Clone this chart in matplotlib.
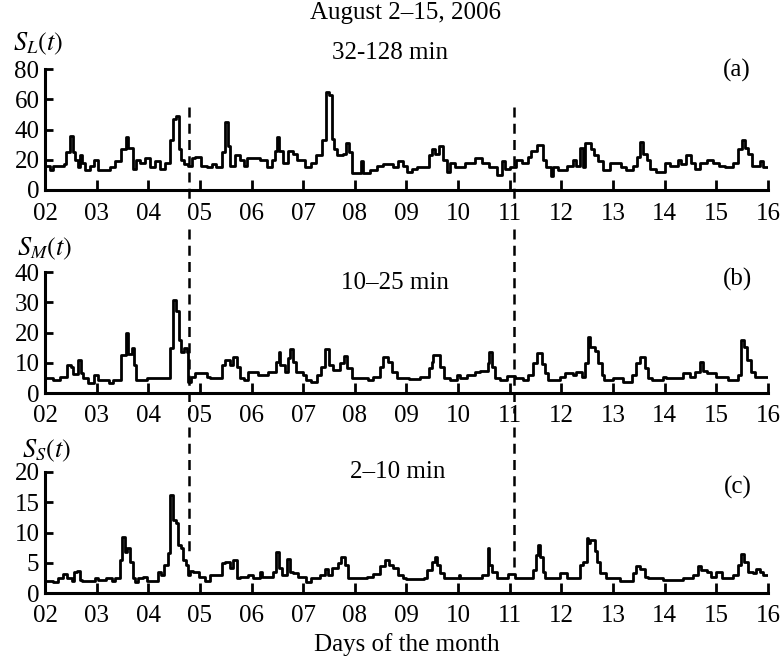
import numpy as np
import matplotlib.pyplot as plt

plt.rcParams['font.family'] = 'Liberation Serif'
plt.rcParams['mathtext.fontset'] = 'stix'

# step data: start time of each step (day of month) and value
t_L = [2.00, 2.10, 2.15, 2.36, 2.41, 2.48, 2.55, 2.58, 2.63, 2.67, 2.71, 2.77, 2.87, 2.94,
       3.03, 3.26, 3.36, 3.48, 3.57, 3.61, 3.71, 3.77, 3.84, 3.94, 4.03, 4.13, 4.23, 4.32,
       4.42, 4.47, 4.54, 4.60, 4.64, 4.69, 4.77, 4.84, 4.90, 5.03, 5.13, 5.23, 5.32, 5.42,
       5.48, 5.55, 5.59, 5.68, 5.77, 5.85, 5.92, 6.16, 6.29, 6.39, 6.45, 6.50, 6.54, 6.60,
       6.71, 6.81, 6.87, 7.03, 7.16, 7.25, 7.36, 7.44, 7.50, 7.55, 7.59, 7.65, 7.77, 7.83,
       7.89, 7.94, 8.11, 8.15, 8.29, 8.42, 8.55, 8.74, 8.84, 8.94, 9.01, 9.10, 9.20, 9.43,
       9.49, 9.55, 9.62, 9.70, 9.78, 9.84, 9.94, 10.13, 10.33, 10.46, 10.59, 10.75, 10.84,
       10.91, 11.00, 11.13, 11.23, 11.36, 11.42, 11.53, 11.65, 11.71, 11.79, 11.84, 11.94,
       12.10, 12.23, 12.29, 12.36, 12.41, 12.45, 12.58, 12.63, 12.71, 12.81, 12.94, 13.16,
       13.26, 13.39, 13.47, 13.53, 13.58, 13.65, 13.72, 13.84, 14.00, 14.10, 14.26, 14.32,
       14.42, 14.50, 14.58, 14.68, 14.81, 14.93, 15.06, 15.16, 15.32, 15.42, 15.50, 15.55,
       15.61, 15.69, 15.84, 15.91]
s_L = [16, 13, 16, 17, 25, 36, 25, 20, 15, 23, 18, 13, 16, 20,
       13, 15, 19, 27, 35, 28, 14, 20, 18, 21, 15, 19, 14, 18,
       33, 47, 49, 27, 20, 17, 16, 21, 22, 16, 15, 17, 15, 25,
       45, 29, 16, 23, 20, 16, 21, 20, 15, 20, 26, 35, 26, 18,
       26, 24, 20, 15, 18, 23, 33, 65, 63, 34, 27, 23, 24, 31,
       25, 11, 19, 11, 13, 16, 17, 15, 19, 16, 12, 14, 15, 23,
       27, 24, 29, 20, 12, 18, 15, 18, 21, 18, 15, 10, 19,
       14, 15, 20, 18, 22, 26, 30, 20, 15, 9, 15, 13,
       16, 20, 16, 28, 15, 31, 27, 23, 19, 13, 18, 15,
       13, 16, 22, 32, 24, 20, 14, 12, 18, 16, 20, 17,
       23, 18, 14, 18, 20, 18, 16, 15, 18, 27, 33, 28,
       24, 16, 19, 15]

t_M = [2.00, 2.16, 2.29, 2.42, 2.50, 2.55, 2.63, 2.69, 2.74, 2.84, 2.94, 3.03, 3.23, 3.32,
       3.48, 3.57, 3.61, 3.68, 3.72, 3.76, 3.97, 4.42, 4.47, 4.54, 4.60, 4.64, 4.69, 4.74,
       4.77, 4.82, 4.90, 5.13, 5.19, 5.42, 5.48, 5.58, 5.65, 5.71, 5.77, 5.85, 5.94, 6.13,
       6.32, 6.48, 6.54, 6.56, 6.65, 6.71, 6.75, 6.81, 6.86, 7.00, 7.06, 7.16, 7.26, 7.35,
       7.42, 7.50, 7.58, 7.71, 7.79, 7.85, 7.94, 8.26, 8.35, 8.48, 8.55, 8.65, 8.71, 8.81,
       9.04, 9.26, 9.43, 9.49, 9.52, 9.65, 9.72, 9.84, 9.97, 10.04, 10.17, 10.33, 10.42,
       10.57, 10.60, 10.65, 10.71, 10.81, 10.94, 11.10, 11.26, 11.36, 11.45, 11.53, 11.62,
       11.68, 11.74, 11.97, 12.07, 12.23, 12.29, 12.39, 12.45, 12.52, 12.56, 12.65, 12.71,
       12.78, 12.82, 13.00, 13.19, 13.36, 13.45, 13.52, 13.61, 13.68, 13.76, 13.97, 14.03,
       14.35, 14.48, 14.58, 14.68, 14.74, 14.81, 15.00, 15.22, 15.42, 15.48, 15.53, 15.59,
       15.68, 15.74]
s_M = [4.9, 4.3, 5.4, 9.3, 8.7, 6.2, 11, 6.5, 4.9, 3.2, 6, 4.3, 3.2, 4.3,
       12.6, 19.7, 13, 15, 9.3, 4.3, 5, 15, 30.8, 27, 17.5, 13.7, 15, 13.5,
       3.7, 5.4, 6.5, 5.4, 4.9, 9.3, 10.9, 9.3, 12, 8.7, 4.9, 4.3, 7, 6,
       7, 10.4, 13.7, 9.3, 7, 11.5, 14.6, 10.4, 7, 6, 4.3, 3.7, 6, 8.7,
       14.6, 9.3, 7.6, 9.8, 12.3, 8.2, 4.9, 4.3, 5.4, 8.7, 12, 10.4, 7, 4.9,
       4.6, 5.4, 8.2, 10.4, 12.6, 8.7, 4.9, 4.3, 6, 5, 6, 6.8, 7.3,
       9.8, 13.5, 8.7, 4.9, 4.3, 5.7, 4.9, 4.3, 6, 9.8, 13.1, 9.5,
       6.5, 4.3, 5.4, 6.5, 6, 7, 5.4, 9.8, 18.6, 15.3, 13.9, 9.8,
       6, 4.3, 4.9, 3.7, 6, 9.8, 12, 8.2, 4.9, 4.3, 5.4, 5,
       6.5, 5.4, 7, 10.1, 7.3, 6.5, 5.4, 4.3, 6, 17.5, 15.3, 10.9,
       7, 5.4]

t_S = [2.00, 2.16, 2.26, 2.35, 2.42, 2.52, 2.56, 2.61, 2.68, 2.71, 2.97, 3.03, 3.19, 3.29,
       3.35, 3.45, 3.50, 3.55, 3.59, 3.65, 3.70, 3.74, 3.81, 3.90, 3.97, 4.19, 4.24, 4.30,
       4.39, 4.43, 4.48, 4.54, 4.58, 4.63, 4.68, 4.73, 4.77, 4.81, 4.87, 4.99, 5.10, 5.19,
       5.42, 5.48, 5.59, 5.65, 5.71, 5.77, 5.94, 6.03, 6.16, 6.21, 6.42, 6.48, 6.54, 6.58,
       6.68, 6.75, 6.81, 6.90, 7.06, 7.16, 7.32, 7.42, 7.48, 7.55, 7.68, 7.74, 7.81, 7.87,
       8.23, 8.35, 8.48, 8.58, 8.66, 8.74, 8.84, 8.94, 9.00, 9.33, 9.39, 9.49, 9.55, 9.60,
       9.65, 9.72, 10.01, 10.04, 10.23, 10.46, 10.57, 10.60, 10.65, 10.75, 10.97, 11.10,
       11.45, 11.51, 11.55, 11.58, 11.64, 11.68, 11.98, 12.10, 12.36, 12.42, 12.49, 12.52,
       12.56, 12.65, 12.69, 12.74, 12.87, 13.13, 13.39, 13.45, 13.52, 13.61, 13.68, 13.97,
       14.35, 14.55, 14.64, 14.71, 14.81, 14.90, 15.00, 15.10, 15.22, 15.32, 15.42, 15.48,
       15.53, 15.61, 15.70, 15.77, 15.84, 15.90]
s_S = [2.0, 1.8, 2.4, 3.1, 2.4, 2.0, 3.4, 3.6, 2.1, 2.0, 2.4, 2.1, 2.4, 2.0,
       2.5, 5.5, 9.3, 6.7, 7.4, 5.2, 2.4, 1.9, 2.5, 2.7, 2.0, 3.5, 3.0, 4.6,
       6.6, 16.2, 12.1, 11.5, 7.9, 7.4, 5.5, 4.6, 3.0, 3.6, 3.5, 2.7, 2.0, 3.0,
       4.9, 5.2, 4.1, 5.5, 2.4, 2.7, 3.0, 2.4, 3.5, 2.7, 3.4, 6.7, 4.1, 3.0,
       5.7, 3.5, 3.3, 2.7, 1.9, 2.4, 2.9, 4.0, 3.0, 4.1, 4.9, 6.0, 4.6, 2.4,
       2.7, 3.1, 4.4, 5.5, 4.7, 4.1, 3.0, 2.4, 2.3, 2.5, 3.8, 5.2, 6.0, 4.6,
       3.3, 2.5, 3.0, 2.4, 2.5, 2.9, 7.5, 4.6, 3.4, 2.5, 3.1, 2.5,
       3.8, 6.2, 7.9, 6.0, 3.5, 2.5, 3.3, 2.4, 4.6, 5.2, 9.1, 8.2,
       8.8, 6.9, 5.2, 3.3, 2.4, 2.0, 3.3, 4.5, 4.0, 2.7, 2.5, 2.1,
       2.4, 3.0, 4.4, 3.8, 3.4, 2.7, 3.4, 2.5, 2.4, 3.0, 4.6, 6.4,
       5.2, 3.5, 3.3, 4.0, 3.4, 3.0]

days = list(range(2, 17))
day_labels = ['%02d' % d for d in days]
storm_days = [4.79, 11.08]

fig = plt.figure(figsize=(7.81, 6.58), dpi=100)
W, H = 781, 658

def px_axes(left, right, top, bottom):
    return fig.add_axes([left / W, 1 - bottom / H, (right - left) / W, (bottom - top) / H])

panels = [
    (px_axes(45, 768, 69, 190), t_L, s_L, 80, [0, 20, 40, 60, 80]),
    (px_axes(45, 768, 272, 393), t_M, s_M, 40, [0, 10, 20, 30, 40]),
    (px_axes(45, 768, 472, 593), t_S, s_S, 20, [0, 5, 10, 15, 20]),
]
# vertical extent (axes fraction) of the dashed lines in each panel
dash_span = [[(0.686, -0.083), (0.686, -0.083)],
             [(1.355, -0.165), (1.355, -0.165)],
             [(1.372, 0.298), (1.372, 0.215)]]

for i, (ax, t, s, ymax, yt) in enumerate(panels):
    ax.step(t + [16], s + [s[-1]], where='post', color='black', lw=2.0)
    ax.set_xlim(2, 16)
    ax.set_ylim(0, ymax)
    ax.set_xticks(days)
    ax.set_xticklabels(day_labels)
    ax.set_yticks(yt)
    for side in ['top', 'right']:
        ax.spines[side].set_visible(False)
    for side in ['left', 'bottom']:
        ax.spines[side].set_linewidth(2.2)
    ax.tick_params(axis='x', direction='in', length=7, width=2, labelsize=18, pad=9)
    ax.tick_params(axis='y', direction='in', length=6, width=2, labelsize=18, pad=4)
    for d, (y0, y1) in zip(storm_days, dash_span[i]):
        ax.plot([d, d], [y0, y1], transform=ax.get_xaxis_transform(), color='black',
                lw=1.8, dashes=(4, 2.5), clip_on=False)

def ftext(x, y, s, size=18):
    fig.text(x / W, 1 - y / H, s, ha='center', va='center', fontsize=size)

ftext(405, 13, 'August 2–15, 2006')
ftext(390, 53, '32-128 min')
ftext(737, 70, '(a)')
ftext(38, 44, r'$S_L(t)$', 19)
ftext(395, 283, '10–25 min')
ftext(738, 279, '(b)')
ftext(45, 249, r'$S_M(t)$', 19)
ftext(398, 472, '2–10 min')
ftext(738, 487, '(c)')
ftext(47, 451, r'$S_S(t)$', 19)
ftext(407, 645, 'Days of the month')

fig.savefig('out.png', dpi=100)
